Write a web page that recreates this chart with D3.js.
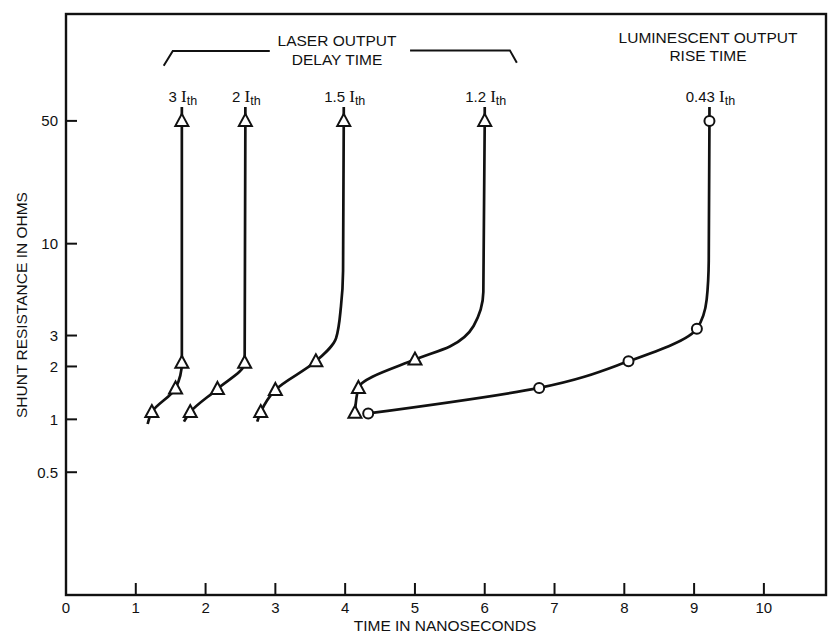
<!DOCTYPE html>
<html>
<head>
<meta charset="utf-8">
<script src="https://cdn.jsdelivr.net/npm/d3@7"></script>
<style>
    body { margin: 0; background: #fff; }
    svg text { font-family: "Liberation Sans", Arial, sans-serif; fill: #111; }
</style>
</head>
<body>
<div id="chart"></div>
<script>
// data: [time ns, shunt ohms]
const xTicks = [0, 1, 2, 3, 4, 5, 6, 7, 8, 9, 10];
const yTicks = [0.5, 1, 2, 3, 10, 50];

const curve3 = [[1.66, 60], [1.66, 50], [1.66, 2.1], [1.57, 1.5], [1.23, 1.1], [1.17, 0.94]];
const marks3 = [[1.66, 50], [1.66, 2.1], [1.57, 1.5], [1.23, 1.1]];

const curve2 = [[2.57, 60], [2.57, 50], [2.56, 2.1], [2.17, 1.49], [1.78, 1.1], [1.69, 0.97]];
const marks2 = [[2.57, 50], [2.56, 2.1], [2.17, 1.49], [1.78, 1.1]];

const curve15 = [[3.98, 60], [3.98, 50], [3.97, 7], [3.94, 4.4], [3.87, 2.9], [3.58, 2.14], [3.0, 1.47], [2.79, 1.1], [2.74, 0.97]];
const marks15 = [[3.98, 50], [3.58, 2.14], [3.0, 1.47], [2.79, 1.1]];

const curve12 = [[6.0, 60], [6.0, 50], [5.98, 5.3], [5.84, 3.4], [5.5, 2.6], [5.0, 2.19], [4.19, 1.51], [4.14, 1.09]];
const marks12 = [[6.0, 50], [5.0, 2.19], [4.19, 1.51], [4.14, 1.09]];

const curve043 = [[9.22, 60], [9.22, 50], [9.21, 8], [9.18, 4.8], [9.04, 3.28], [8.06, 2.14], [6.78, 1.51], [4.33, 1.08]];
const marks043 = [[9.22, 50], [9.04, 3.28], [8.06, 2.14], [6.78, 1.51], [4.33, 1.08]];

const series = [
    { label: "3", curve: curve3, marks: marks3, marker: "triangle" },
    { label: "2", curve: curve2, marks: marks2, marker: "triangle" },
    { label: "1.5", curve: curve15, marks: marks15, marker: "triangle" },
    { label: "1.2", curve: curve12, marks: marks12, marker: "triangle" },
    { label: "0.43", curve: curve043, marks: marks043, marker: "circle" }
];

// bracket over the laser curves
const bracketLeft = [[1.40, 103], [1.53, 125], [2.92, 125]];
const bracketRight = [[4.93, 126], [6.36, 126], [6.46, 107]];

const margin = { top: 14, right: 2, bottom: 38, left: 66 };
const width = 828 - margin.left - margin.right;
const height = 633 - margin.top - margin.bottom;

const svg = d3.select("#chart").append("svg")
    .attr("width", 828)
    .attr("height", 633)
    .append("g")
    .attr("transform", `translate(${margin.left},${margin.top})`);

const x = d3.scaleLinear().domain([0, 10.89]).range([0, width]);
const y = d3.scaleLog().domain([0.1, 203]).range([height, 0]);

// frame
svg.append("rect")
    .attr("width", width).attr("height", height)
    .attr("fill", "none").attr("stroke", "#111").attr("stroke-width", 2.4);

// x ticks (inward)
const xAxis = svg.append("g");
xAxis.selectAll("line").data(xTicks.filter(d => d > 0)).join("line")
    .attr("x1", d => x(d)).attr("x2", d => x(d))
    .attr("y1", height).attr("y2", height - 12)
    .attr("stroke", "#111").attr("stroke-width", 2);
xAxis.selectAll("text").data(xTicks).join("text")
    .attr("x", d => x(d)).attr("y", height + 18)
    .attr("text-anchor", "middle").attr("font-size", 15)
    .text(d => d);

// y ticks (inward)
const yAxis = svg.append("g");
yAxis.selectAll("line").data(yTicks).join("line")
    .attr("x1", 0).attr("x2", 11)
    .attr("y1", d => y(d)).attr("y2", d => y(d))
    .attr("stroke", "#111").attr("stroke-width", 2);
yAxis.selectAll("text").data(yTicks).join("text")
    .attr("x", -8).attr("y", d => y(d)).attr("dy", "0.36em")
    .attr("text-anchor", "end").attr("font-size", 15)
    .text(d => d);

// axis titles
svg.append("text")
    .attr("x", 445 - margin.left).attr("y", height + 36)
    .attr("text-anchor", "middle").attr("font-size", 15.5)
    .text("TIME IN NANOSECONDS");
svg.append("text")
    .attr("transform", `translate(${27 - margin.left},${305 - margin.top}) rotate(-90)`)
    .attr("text-anchor", "middle").attr("font-size", 15.5)
    .text("SHUNT RESISTANCE IN OHMS");

// curves
const line = d3.line()
    .x(d => x(d[0])).y(d => y(d[1]))
    .curve(d3.curveMonotoneY);

const triangle = "M0,-7L6.5,5L-6.5,5Z";

series.forEach(s => {
    svg.append("path")
        .datum(s.curve)
        .attr("d", line)
        .attr("fill", "none").attr("stroke", "#111").attr("stroke-width", 2.7);

    if (s.marker === "triangle") {
        svg.selectAll(null).data(s.marks).join("path")
            .attr("d", triangle)
            .attr("transform", d => `translate(${x(d[0])},${y(d[1])})`)
            .attr("fill", "#fff").attr("stroke", "#111").attr("stroke-width", 2);
    } else {
        svg.selectAll(null).data(s.marks).join("circle")
            .attr("cx", d => x(d[0])).attr("cy", d => y(d[1])).attr("r", 5)
            .attr("fill", "#fff").attr("stroke", "#111").attr("stroke-width", 2);
    }

    // label like "3 Ith"
    const top = s.marks[0];
    const t = svg.append("text")
        .attr("x", x(top[0]) + 1).attr("y", 102 - margin.top)
        .attr("text-anchor", "middle").attr("font-size", 15);
    t.append("tspan").text(s.label + " ");
    t.append("tspan").attr("font-family", "Liberation Serif, serif").attr("font-size", 17).text("I");
    t.append("tspan").attr("font-size", 12.5).attr("dy", 3).text("th");
});

// bracket and annotations
const straight = d3.line().x(d => x(d[0])).y(d => y(d[1]));
[bracketLeft, bracketRight].forEach(b => {
    svg.append("path").datum(b).attr("d", straight)
        .attr("fill", "none").attr("stroke", "#111").attr("stroke-width", 2);
});

svg.append("text").attr("x", 337 - margin.left).attr("y", 46 - margin.top)
    .attr("text-anchor", "middle").attr("font-size", 15.5).text("LASER OUTPUT");
svg.append("text").attr("x", 337 - margin.left).attr("y", 65 - margin.top)
    .attr("text-anchor", "middle").attr("font-size", 15.5).text("DELAY TIME");
svg.append("text").attr("x", 708 - margin.left).attr("y", 43 - margin.top)
    .attr("text-anchor", "middle").attr("font-size", 15.5).text("LUMINESCENT OUTPUT");
svg.append("text").attr("x", 708 - margin.left).attr("y", 61 - margin.top)
    .attr("text-anchor", "middle").attr("font-size", 15.5).text("RISE TIME");
</script>
</body>
</html>
